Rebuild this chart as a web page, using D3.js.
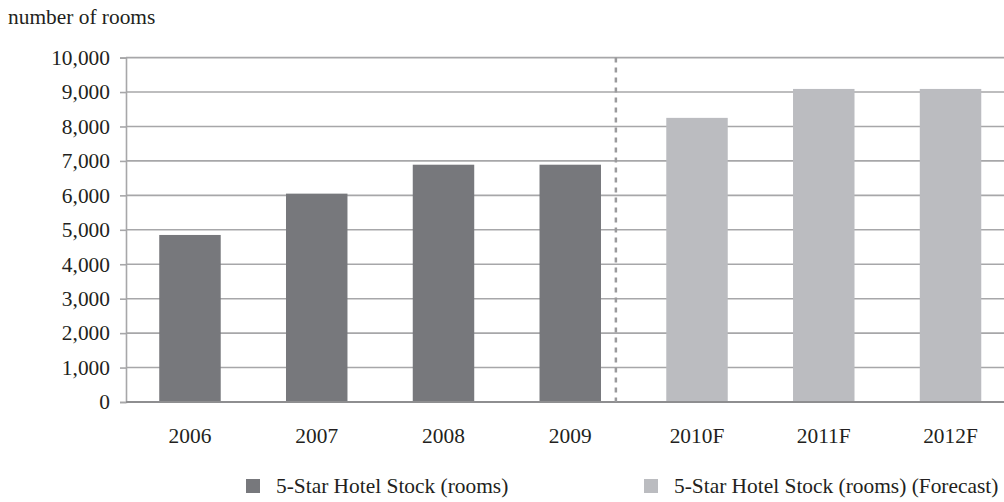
<!DOCTYPE html>
<html><head><meta charset="utf-8">
<script src="https://cdn.jsdelivr.net/npm/d3@7"></script>
<style>body{margin:0;background:#fff}svg{display:block}text{font-family:"Liberation Serif","Times New Roman",serif;fill:#231f20}</style>
</head><body><svg id="c" width="1004" height="502"></svg>
<script>
const categories = ["2006","2007","2008","2009","2010F","2011F","2012F"];
const values = [4850, 6050, 6890, 6890, 8250, 9090, 9090];
const isForecast = [false,false,false,false,true,true,true];
const yTicks = [0,1000,2000,3000,4000,5000,6000,7000,8000,9000,10000];
const seriesNames = ["5-Star Hotel Stock (rooms)", "5-Star Hotel Stock (rooms) (Forecast)"];
const yTitle = "number of rooms";

const FS = "21.4px";
const colors = {actual:"#77787c", forecast:"#bbbcc0"};
const svg = d3.select("#c");
const x = d3.scaleBand().domain(categories).range([126.6, 1013.9]).paddingInner(0.515).paddingOuter(0.2575);
const y = d3.scaleLinear().domain([0,10000]).range([402, 57.6]);
const axisX = 126;

// gridlines
svg.append("g").selectAll("line").data(yTicks.filter(d=>d>0)).join("line")
  .attr("x1", axisX).attr("x2", 1004).attr("y1", d=>y(d)).attr("y2", d=>y(d))
  .attr("stroke", "#a7a7a9").attr("stroke-width", 1.6);

// y axis
const ya = svg.append("g").attr("transform", `translate(${axisX},0)`)
  .call(d3.axisLeft(y).tickValues(yTicks).tickFormat(d3.format(",")).tickSize(6).tickPadding(10));
ya.select(".domain").attr("stroke", "#a7a7a9").attr("stroke-width", 1.6);
ya.selectAll(".tick line").attr("stroke", "#a7a7a9").attr("stroke-width", 1.6);
ya.selectAll(".tick text").style("font-size", FS).attr("fill", "#231f20").style("font-family", '"Liberation Serif",serif');

// bars
svg.append("g").selectAll("rect").data(categories).join("rect")
  .attr("x", d=>x(d)).attr("width", x.bandwidth())
  .attr("y", (d,i)=>y(values[i])).attr("height", (d,i)=>y(0)-y(values[i]))
  .attr("fill", (d,i)=>isForecast[i]?colors.forecast:colors.actual);

// baseline
svg.append("line").attr("x1", axisX).attr("x2", 1004).attr("y1", y(0)).attr("y2", y(0))
  .attr("stroke", "#8e8e90").attr("stroke-width", 1.8);

// forecast divider
const dx = x("2009") + x.bandwidth()/2 + 0.36*x.step();
svg.append("line").attr("x1", dx).attr("x2", dx).attr("y1", y(10000)).attr("y2", y(0))
  .attr("stroke", "#9a9a9c").attr("stroke-width", 2.5).attr("stroke-dasharray", "5,5");

// x labels
const xa = svg.append("g").attr("transform", `translate(0,${y(0)})`)
  .call(d3.axisBottom(x).tickSize(0).tickPadding(26));
xa.select(".domain").remove();
xa.selectAll(".tick text").style("font-size", FS).attr("fill", "#231f20").style("font-family", '"Liberation Serif",serif');

// y title
svg.append("text").attr("x", 8).attr("y", 24).style("font-size", FS).text(yTitle);

// legend
const leg = [{x:246, c:colors.actual, t:seriesNames[0]}, {x:644, c:colors.forecast, t:seriesNames[1]}];
const lg = svg.append("g").selectAll("g").data(leg).join("g");
lg.append("rect").attr("x", d=>d.x).attr("y", 479).attr("width", 14).attr("height", 14).attr("fill", d=>d.c);
lg.append("text").attr("x", d=>d.x+30).attr("y", 493).style("font-size", FS).text(d=>d.t);
</script></body></html>
